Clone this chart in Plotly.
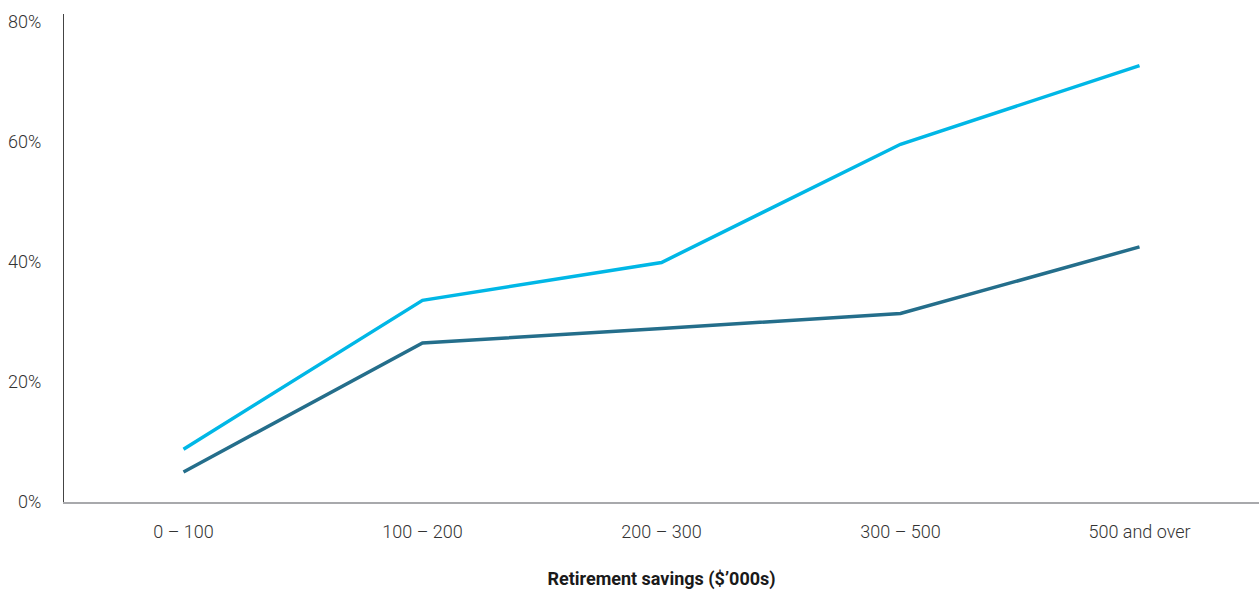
import plotly.graph_objects as go

categories = ["0 – 100", "100 – 200", "200 – 300", "300 – 500", "500 and over"]
series_light = [8.8, 33.6, 39.9, 59.6, 72.7]
series_dark = [5.0, 26.5, 28.9, 31.4, 42.5]
y_ticks = [0, 20, 40, 60, 80]
y_tick_labels = ["0%", "20%", "40%", "60%", "80%"]
x_title = "Retirement savings ($’000s)"

fig = go.Figure()
fig.add_trace(go.Scatter(x=categories, y=series_dark, mode="lines",
                         line=dict(color="#246E8B", width=3.5), showlegend=False,
                         hoverinfo="skip"))
fig.add_trace(go.Scatter(x=categories, y=series_light, mode="lines",
                         line=dict(color="#00B7E6", width=3.5), showlegend=False,
                         hoverinfo="skip"))

fig.update_layout(
    width=1260, height=590,
    margin=dict(l=64, r=1, t=14, b=88),
    paper_bgcolor="white", plot_bgcolor="white",
    font=dict(family="Roboto, 'Open Sans', sans-serif", size=18, color="#333333"),
    xaxis=dict(
        type="category", range=[-0.5, 4.5],
        showgrid=False, zeroline=False,
        showline=True, linecolor="#A8A9AC", linewidth=2,
        ticks="", ticklabelstandoff=12,
        tickfont=dict(size=18, color="#333333", weight=300),
        title=dict(text="<b>" + x_title + "</b>", font=dict(size=18, color="#1a1a1a"), standoff=36),
        fixedrange=True,
    ),
    yaxis=dict(
        range=[0, 81.3],
        tickvals=y_ticks, ticktext=y_tick_labels,
        showgrid=False, zeroline=False,
        showline=True, linecolor="#444444", linewidth=1,
        ticks="", ticklabelstandoff=18,
        tickfont=dict(size=18, color="#333333", weight=300),
        fixedrange=True,
    ),
)

fig.write_html("out.html", config={"displayModeBar": False})

with open("out.html", "r", encoding="utf-8") as f:
    html = f.read()
html = html.replace("<body>", '<body style="margin:0;padding:0;overflow:hidden">', 1)
with open("out.html", "w", encoding="utf-8") as f:
    f.write(html)
